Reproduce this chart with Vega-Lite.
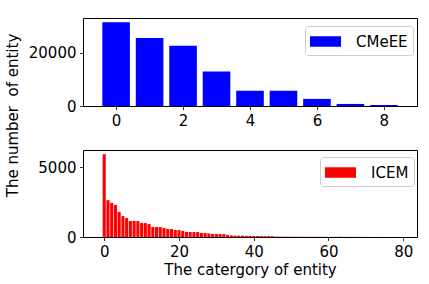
{
  "$schema": "https://vega.github.io/schema/vega-lite/v6.json",
  "padding": {"left": 4, "top": 17, "right": 5, "bottom": 5},
  "bounds": "flush",
  "spacing": 44,
  "config": {
    "font": "DejaVu Sans",
    "view": {"stroke": "black", "strokeWidth": 1},
    "axis": {"domain": false, "grid": false, "tickColor": "black", "tickSize": 3.5, "tickWidth": 0.8, "labelColor": "black", "labelFontSize": 15, "labelPadding": 3.5, "labelFont": "DejaVu Sans", "titleFont": "DejaVu Sans", "titleFontSize": 15, "titleFontWeight": "normal", "titleColor": "black", "labelFlush": false},
    "legend": {"labelFontSize": 15, "labelFont": "DejaVu Sans", "labelColor": "black", "symbolType": "M-1.5,-0.5H1.5V0.5H-1.5Z", "symbolSize": 428, "symbolStrokeWidth": 0, "symbolOpacity": 1, "strokeColor": "#cccccc", "cornerRadius": 3, "fillColor": "rgba(255,255,255,0.8)", "padding": 5, "symbolOffset": 5, "labelOffset": 20}
  },
  "datasets": {
    "cmeee": [
      {"category": 0, "count": 31470, "dataset": "CMeEE"},
      {"category": 1, "count": 25620, "dataset": "CMeEE"},
      {"category": 2, "count": 22680, "dataset": "CMeEE"},
      {"category": 3, "count": 13000, "dataset": "CMeEE"},
      {"category": 4, "count": 5740, "dataset": "CMeEE"},
      {"category": 5, "count": 5740, "dataset": "CMeEE"},
      {"category": 6, "count": 2680, "dataset": "CMeEE"},
      {"category": 7, "count": 770, "dataset": "CMeEE"},
      {"category": 8, "count": 380, "dataset": "CMeEE"}
    ],
    "icem": [
      {"category": 0, "count": 5950, "dataset": "ICEM"},
      {"category": 1, "count": 2650, "dataset": "ICEM"},
      {"category": 2, "count": 2450, "dataset": "ICEM"},
      {"category": 3, "count": 2300, "dataset": "ICEM"},
      {"category": 4, "count": 1800, "dataset": "ICEM"},
      {"category": 5, "count": 1500, "dataset": "ICEM"},
      {"category": 6, "count": 1360, "dataset": "ICEM"},
      {"category": 7, "count": 1150, "dataset": "ICEM"},
      {"category": 8, "count": 1150, "dataset": "ICEM"},
      {"category": 9, "count": 1145, "dataset": "ICEM"},
      {"category": 10, "count": 1010, "dataset": "ICEM"},
      {"category": 11, "count": 1000, "dataset": "ICEM"},
      {"category": 12, "count": 930, "dataset": "ICEM"},
      {"category": 13, "count": 720, "dataset": "ICEM"},
      {"category": 14, "count": 715, "dataset": "ICEM"},
      {"category": 15, "count": 710, "dataset": "ICEM"},
      {"category": 16, "count": 650, "dataset": "ICEM"},
      {"category": 17, "count": 580, "dataset": "ICEM"},
      {"category": 18, "count": 570, "dataset": "ICEM"},
      {"category": 19, "count": 505, "dataset": "ICEM"},
      {"category": 20, "count": 500, "dataset": "ICEM"},
      {"category": 21, "count": 430, "dataset": "ICEM"},
      {"category": 22, "count": 365, "dataset": "ICEM"},
      {"category": 23, "count": 360, "dataset": "ICEM"},
      {"category": 24, "count": 358, "dataset": "ICEM"},
      {"category": 25, "count": 355, "dataset": "ICEM"},
      {"category": 26, "count": 290, "dataset": "ICEM"},
      {"category": 27, "count": 285, "dataset": "ICEM"},
      {"category": 28, "count": 260, "dataset": "ICEM"},
      {"category": 29, "count": 215, "dataset": "ICEM"},
      {"category": 30, "count": 212, "dataset": "ICEM"},
      {"category": 31, "count": 210, "dataset": "ICEM"},
      {"category": 32, "count": 205, "dataset": "ICEM"},
      {"category": 33, "count": 150, "dataset": "ICEM"},
      {"category": 34, "count": 110, "dataset": "ICEM"},
      {"category": 35, "count": 100, "dataset": "ICEM"},
      {"category": 36, "count": 95, "dataset": "ICEM"},
      {"category": 37, "count": 90, "dataset": "ICEM"},
      {"category": 38, "count": 85, "dataset": "ICEM"},
      {"category": 39, "count": 80, "dataset": "ICEM"},
      {"category": 40, "count": 75, "dataset": "ICEM"},
      {"category": 41, "count": 70, "dataset": "ICEM"},
      {"category": 42, "count": 68, "dataset": "ICEM"},
      {"category": 43, "count": 65, "dataset": "ICEM"},
      {"category": 44, "count": 62, "dataset": "ICEM"},
      {"category": 45, "count": 60, "dataset": "ICEM"},
      {"category": 46, "count": 30, "dataset": "ICEM"},
      {"category": 47, "count": 28, "dataset": "ICEM"},
      {"category": 48, "count": 26, "dataset": "ICEM"},
      {"category": 49, "count": 24, "dataset": "ICEM"},
      {"category": 50, "count": 22, "dataset": "ICEM"},
      {"category": 51, "count": 20, "dataset": "ICEM"},
      {"category": 52, "count": 19, "dataset": "ICEM"},
      {"category": 53, "count": 18, "dataset": "ICEM"},
      {"category": 54, "count": 17, "dataset": "ICEM"},
      {"category": 55, "count": 16, "dataset": "ICEM"},
      {"category": 56, "count": 15, "dataset": "ICEM"},
      {"category": 57, "count": 14, "dataset": "ICEM"},
      {"category": 58, "count": 13, "dataset": "ICEM"},
      {"category": 59, "count": 12, "dataset": "ICEM"},
      {"category": 60, "count": 11, "dataset": "ICEM"},
      {"category": 61, "count": 10, "dataset": "ICEM"},
      {"category": 62, "count": 10, "dataset": "ICEM"},
      {"category": 63, "count": 9, "dataset": "ICEM"},
      {"category": 64, "count": 9, "dataset": "ICEM"},
      {"category": 65, "count": 8, "dataset": "ICEM"},
      {"category": 66, "count": 8, "dataset": "ICEM"},
      {"category": 67, "count": 7, "dataset": "ICEM"},
      {"category": 68, "count": 7, "dataset": "ICEM"},
      {"category": 69, "count": 6, "dataset": "ICEM"},
      {"category": 70, "count": 6, "dataset": "ICEM"},
      {"category": 71, "count": 5, "dataset": "ICEM"},
      {"category": 72, "count": 5, "dataset": "ICEM"},
      {"category": 73, "count": 4, "dataset": "ICEM"},
      {"category": 74, "count": 4, "dataset": "ICEM"},
      {"category": 75, "count": 3, "dataset": "ICEM"},
      {"category": 76, "count": 3, "dataset": "ICEM"},
      {"category": 77, "count": 2, "dataset": "ICEM"},
      {"category": 78, "count": 1, "dataset": "ICEM"}
    ]
  },
  "vconcat": [
    {
      "data": {"name": "cmeee"},
      "width": 334,
      "height": 88,
      "mark": {"type": "bar", "size": 27.6},
      "encoding": {
        "x": {"field": "category", "type": "quantitative", "scale": {"domain": [-0.84, 8.84], "nice": false, "zero": false}, "axis": {"values": [0, 2, 4, 6, 8], "title": null, "format": "d"}},
        "y": {"field": "count", "type": "quantitative", "scale": {"domain": [0, 33100], "nice": false}, "axis": {"values": [0, 20000], "format": "d", "title": "The number \u00a0of entity", "titleAngle": 270, "titleAlign": "center", "titleBaseline": "middle", "titleX": -71, "titleY": 97}},
        "color": {"field": "dataset", "type": "nominal", "scale": {"domain": ["CMeEE"], "range": ["#0000ff"]}, "legend": {"title": null, "orient": "none", "legendX": 222, "legendY": 8}}
      }
    },
    {
      "data": {"name": "icem"},
      "width": 334,
      "height": 87,
      "mark": {"type": "bar", "size": 3.08},
      "encoding": {
        "x": {"field": "category", "type": "quantitative", "scale": {"domain": [-4.34, 82.34], "nice": false, "zero": false}, "axis": {"values": [0, 20, 40, 60, 80], "title": "The catergory of entity", "titlePadding": 3, "format": "d"}},
        "y": {"field": "count", "type": "quantitative", "scale": {"domain": [0, 6250], "nice": false}, "axis": {"values": [0, 5000], "format": "d", "title": null}},
        "color": {"field": "dataset", "type": "nominal", "scale": {"domain": ["ICEM"], "range": ["#ff0000"]}, "legend": {"title": null, "orient": "none", "legendX": 237, "legendY": 7}}
      }
    }
  ],
  "resolve": {"scale": {"color": "independent"}, "legend": {"color": "independent"}}
}
